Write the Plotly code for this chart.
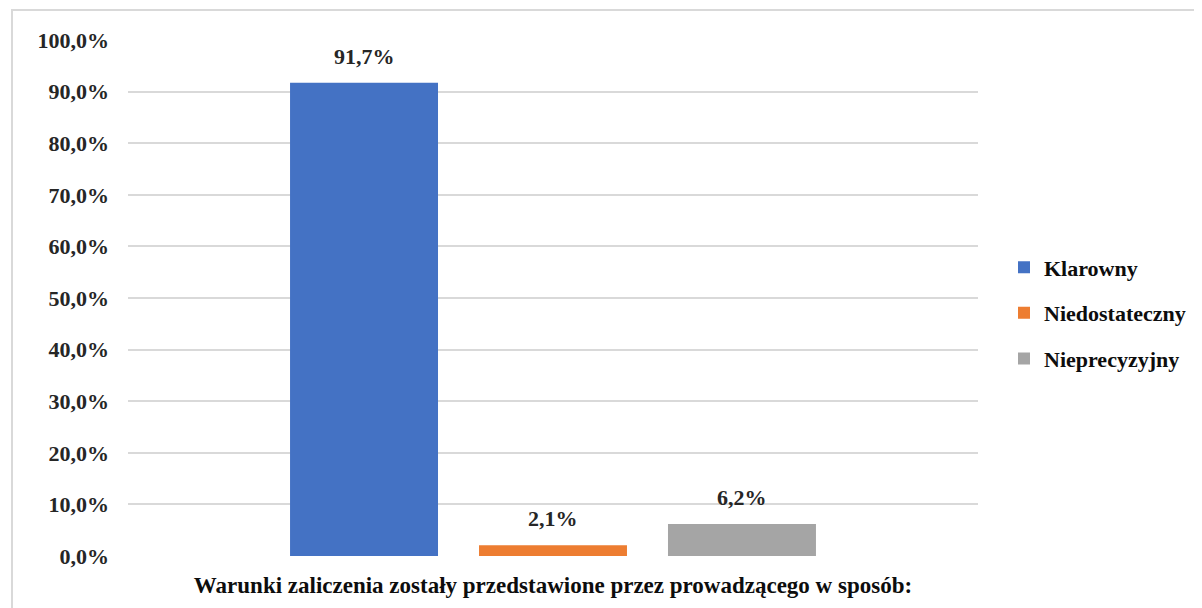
import plotly.graph_objects as go

category_title = "Warunki zaliczenia zostały przedstawione przez prowadzącego w sposób:"
series_names = ["Klarowny", "Niedostateczny", "Nieprecyzyjny"]
series_values = [0.917, 0.021, 0.062]
series_colors = ["#4472C4", "#ED7D31", "#A5A5A5"]
y_ticks = [0, 0.1, 0.2, 0.3, 0.4, 0.5, 0.6, 0.7, 0.8, 0.9, 1.0]

FONT = "Liberation Serif"
FS = 22

fig = go.Figure()
positions = [-1, 0, 1]
for pos, name, val, col in zip(positions, series_names, series_values, series_colors):
    fig.add_trace(go.Bar(
        x=[pos], y=[val], name=name, width=0.783,
        marker=dict(color=col, line=dict(width=0)),
        hovertemplate="%{y:.1%}<extra>" + name + "</extra>",
        legendgroup=name,
    ))
    fig.add_annotation(x=pos, y=val, text=f"{val*100:.1f}%".replace(".", ","),
                       showarrow=False, yanchor="bottom", yshift=12,
                       font=dict(family=FONT, size=FS, color="#262626", weight="bold"))

W, H = 1202, 608
OFF = 8  # page body margin
L, R, T, B = 128 - OFF, W - 978 + OFF, 40 - OFF, H - 556 + OFF
pw, ph = W - L - R, H - T - B

fig.update_layout(
    width=W, height=H,
    margin=dict(l=L, r=R, t=T, b=B),
    paper_bgcolor="white", plot_bgcolor="white",
    separators=", ",
    barmode="overlay",
    font=dict(family=FONT, size=FS, color="#262626", weight="bold"),
    xaxis=dict(range=[-2.249, 2.249], tickvals=[], showgrid=False, zeroline=False,
               title=dict(text=category_title, standoff=20,
                          font=dict(family=FONT, size=23, color="#0d0d0d", weight="bold"))),
    yaxis=dict(range=[0, 1.0], tickvals=y_ticks, tickformat=".1%",
               gridcolor="#D9D9D9", gridwidth=1.5, zeroline=False, showline=False,
               ticks="", ticklabelstandoff=18,
               tickfont=dict(family=FONT, size=FS, color="#262626", weight="bold")),
    legend=dict(x=(1008 - 128 - 4) / pw, y=0.471, xanchor="left", yanchor="middle",
                font=dict(family=FONT, size=FS, color="#0d0d0d", weight="bold"),
                tracegroupgap=14, itemwidth=30, bgcolor="rgba(0,0,0,0)"),
    showlegend=True,
)

# chart frame border
fig.add_shape(type="rect", xref="paper", yref="paper",
              x0=(4 - L) / pw, x1=(1240 - L) / pw,
              y0=-(H + 30 - T - ph) / ph, y1=1 + (T - 2) / ph,
              line=dict(color="#D9D9D9", width=2), fillcolor="rgba(0,0,0,0)", layer="below")

fig.write_html("out.html")
